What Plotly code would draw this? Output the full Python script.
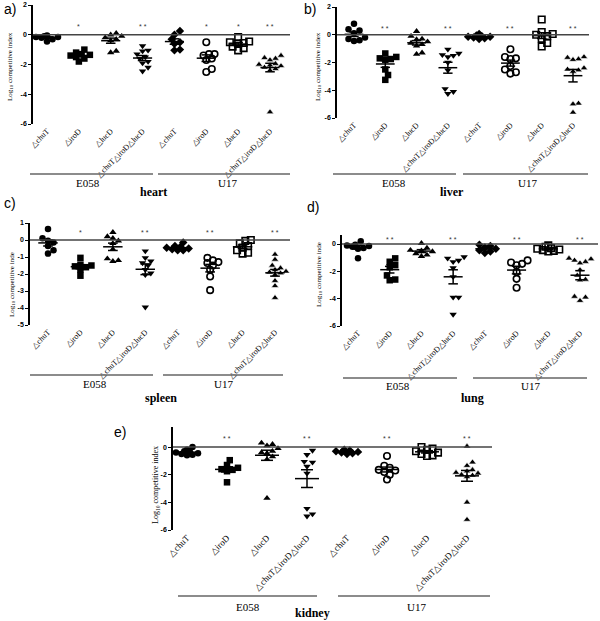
import numpy as np
import plotly.graph_objects as go

W, H = 600, 621

# ---------------- data ----------------
tick_labels = ["△chuT", "△iroD", "△lucD", "△chuT△iroD△lucD",
               "△chuT", "△iroD", "△lucD", "△chuT△iroD△lucD"]
strains = ["E058", "U17"]
organs = ["heart", "liver", "spleen", "lung", "kidney"]
panel_letters = ["a)", "b)", "c)", "d)", "e)"]

heart = [
    [-0.05, -0.1, -0.15, -0.1, -0.2, -0.45, -0.3, -0.15],
    [-1.0, -1.2, -1.3, -1.35, -1.4, -1.5, -1.6, -1.8],
    [0.1, 0.0, -0.1, -0.2, -0.3, -0.4, -1.1, -1.2],
    [-0.75, -1.05, -1.1, -1.3, -1.5, -1.6, -1.8, -1.9, -2.2, -2.45],
    [0.25, 0.0, -0.3, -0.6, -0.5, -1.0, -1.05],
    [-0.5, -1.3, -1.3, -1.4, -1.6, -1.7, -2.3, -2.5],
    [-0.15, -0.45, -0.5, -0.55, -0.6, -0.8, -0.9, -1.05],
    [-1.4, -1.55, -1.6, -1.7, -1.95, -2.0, -2.05, -2.1, -2.2, -2.3, -2.4, -5.2],
]
liver = [
    [0.8, 0.4, 0.3, 0.1, -0.2, -0.3, -0.4, -0.45],
    [-1.35, -1.6, -1.7, -1.75, -1.8, -2.5, -2.9, -3.25],
    [0.25, -0.1, -0.3, -0.35, -0.5, -0.6, -0.7, -0.8, -1.3, -1.4],
    [-1.05, -1.35, -1.45, -1.5, -1.6, -2.0, -2.55, -3.9, -4.1, -4.25],
    [0.05, -0.05, -0.1, -0.15, -0.2, -0.25, -0.3, -0.15],
    [-1.05, -1.6, -1.7, -1.75, -2.25, -2.5, -2.7, -2.8],
    [1.1, 0.2, 0.05, 0.0, -0.1, -0.3, -0.6, -0.85],
    [-1.6, -1.65, -1.75, -1.8, -2.4, -2.5, -2.55, -2.65, -4.95, -5.0, -5.6],
]
spleen = [
    [0.65, 0.1, -0.05, -0.15, -0.35, -0.6, -0.8],
    [-1.05, -1.45, -1.5, -1.55, -1.6, -1.75, -2.1],
    [0.45, 0.2, 0.1, -0.05, -0.2, -0.55, -1.1, -1.25, -1.2],
    [-0.65, -1.05, -1.25, -1.35, -1.5, -1.75, -1.95, -2.05, -3.95],
    [-0.15, -0.35, -0.4, -0.45, -0.5, -0.55, -0.6, -0.6],
    [-1.05, -1.2, -1.3, -1.35, -1.5, -1.75, -2.15, -2.95],
    [0.0, -0.05, -0.2, -0.35, -0.45, -0.6, -0.75, -0.8],
    [-0.85, -1.15, -1.5, -1.65, -1.75, -1.85, -1.9, -1.95, -2.05, -2.4, -2.7, -3.4],
]
lung = [
    [0.2, -0.05, -0.1, -0.15, -0.2, -0.3, -0.35, -1.05],
    [-1.05, -1.3, -1.55, -1.7, -2.3, -2.6, -2.65],
    [0.05, -0.3, -0.45, -0.5, -0.55, -0.7, -0.8, -0.9],
    [-0.95, -1.05, -1.2, -1.3, -1.75, -2.4, -3.9, -3.9, -5.15],
    [-0.05, -0.15, -0.25, -0.35, -0.45, -0.55, -0.65],
    [-1.2, -1.35, -1.45, -1.55, -2.05, -2.55, -3.2],
    [-0.1, -0.2, -0.3, -0.35, -0.4, -0.45, -0.5, -0.55],
    [-1.05, -1.1, -1.2, -1.3, -1.4, -1.9, -2.3, -2.6, -2.65, -3.85, -3.9, -4.15],
]
kidney = [
    [0.0, -0.2, -0.3, -0.35, -0.4, -0.45, -0.5, -0.55, -0.6],
    [-0.95, -1.3, -1.5, -1.6, -1.65, -1.75, -2.55],
    [0.3, 0.2, 0.1, -0.1, -0.3, -0.4, -0.45, -0.7, -0.9, -3.7],
    [-0.25, -0.55, -1.05, -1.1, -1.4, -1.9, -4.45, -4.85, -5.0],
    [-0.2, -0.25, -0.3, -0.35, -0.4, -0.45, -0.5],
    [-0.65, -1.35, -1.5, -1.65, -1.7, -1.8, -2.0, -2.35],
    [0.0, -0.1, -0.2, -0.3, -0.4, -0.5, -0.6, -0.65],
    [0.05, -1.1, -1.35, -1.65, -1.75, -1.85, -1.9, -2.0, -2.05, -2.15, -4.0, -5.25],
]
organ_data = [heart, liver, spleen, lung, kidney]

heart_sig = ["", "*", "", "* *", "", "*", "*", "* *"]
liver_sig = ["", "* *", "", "* *", "", "* *", "", "* *"]
spleen_sig = ["", "*", "", "* *", "", "* *", "", "* *"]
lung_sig = ["", "* *", "", "* *", "", "* *", "", "* *"]
kidney_sig = ["", "* *", "", "* *", "", "* *", "", "* *"]
organ_sig = [heart_sig, liver_sig, spleen_sig, lung_sig, kidney_sig]

heart_yticks = [2, 0, -2, -4, -6]
liver_yticks = [2, 0, -2, -4, -6]
spleen_yticks = [1, 0, -1, -2, -3, -4, -5]
lung_yticks = [0, -2, -4, -6]
kidney_yticks = [0, -2, -4, -6]
organ_yticks = [heart_yticks, liver_yticks, spleen_yticks, lung_yticks, kidney_yticks]
yranges = [[-6, 2], [-6, 2], [-5, 1], [-6, 0.66], [-6, 1.45]]

# ---------------- layout geometry (pixels) ----------------
geom = [
    dict(xl=33, xr=290, c0=47, c7=270, ytop=5, ybot=124, ytitle=(10, 67), tsize=7,
         title="Log<sub>10</sub> competitive index", sigy=0.55,
         letter=(2, 9), glines=[(30, 153), (158, 290)], gly=174, glab=[(88, 183), (227, 183)],
         org=(153, 192), fs=8),
    dict(xl=337, xr=589, c0=354, c7=573, ytop=7, ybot=118, ytitle=(318, 67), tsize=7,
         title="Log<sub>10</sub> competitive index", sigy=0.45,
         letter=(302, 9), glines=[(333, 456), (463, 588)], gly=174, glab=[(394, 183), (527, 183)],
         org=(452, 192), fs=8),
    dict(xl=30, xr=290, c0=48, c7=275, ytop=223, ybot=325, ytitle=(12, 285), tsize=7,
         title="Log<sub>10</sub> competitive inde", sigy=0.45,
         letter=(2, 203), glines=[(30, 153), (163, 283)], gly=375, glab=[(95, 384), (223, 384)],
         org=(161, 398), fs=8),
    dict(xl=342, xr=598, c0=358, c7=580, ytop=235, ybot=326, ytitle=(319, 275), tsize=7,
         title="Log<sub>10</sub> competitive inde", sigy=0.3,
         letter=(305, 207), glines=[(343, 457), (473, 587)], gly=378, glab=[(398, 386), (530, 386)],
         org=(472, 398), fs=8),
    dict(xl=173, xr=492, c0=187, c7=467, ytop=427, ybot=530, ytitle=(156, 485), tsize=8,
         title="Log<sub>10</sub> competitive index", sigy=0.65,
         letter=(112, 432), glines=[(178, 317), (338, 490)], gly=596, glab=[(248, 607), (417, 607)],
         org=(312, 613), fs=9),
]

markers = [
    dict(symbol="circle", color="black", line=dict(color="black", width=0)),
    dict(symbol="square", color="black", line=dict(color="black", width=0)),
    dict(symbol="triangle-up", color="black", line=dict(color="black", width=0)),
    dict(symbol="triangle-down", color="black", line=dict(color="black", width=0)),
    dict(symbol="diamond", color="black", line=dict(color="black", width=0)),
    dict(symbol="circle-open", color="black", line=dict(color="black", width=1.6)),
    dict(symbol="square-open", color="black", line=dict(color="black", width=1.6)),
    dict(symbol="triangle-up", color="black", line=dict(color="white", width=0.6)),
]

SERIF = "Liberation Serif, Times New Roman, serif"
SANS = "Liberation Sans, Arial, sans-serif"


def swarm(vals, upx, vpx, d=5.0, maxoff=0.4):
    """Simple beeswarm offsets in category units."""
    order = np.argsort(vals)
    placed = []
    offs = np.zeros(len(vals))
    step = (d * 0.55) / upx
    for i in order:
        yp = vals[i] * vpx
        best = None
        k = 0
        while True:
            cands = [0.0] if k == 0 else [k * step, -k * step]
            ok = None
            for c in cands:
                if abs(c) > maxoff:
                    continue
                if all((c - po) ** 2 * upx ** 2 + (yp - py) ** 2 >= d * d for po, py in placed):
                    ok = c
                    break
            if ok is not None:
                best = ok
                break
            k += 1
            if k * step > maxoff:
                best = ((len(placed) % 3) - 1) * step
                break
        offs[i] = best
        placed.append((best, yp))
    return offs


def paper_text(px, py, text, font, xanchor="center", textangle=0):
    return dict(x=px / W, y=1 - py / H, xref="paper", yref="paper", text=text,
                showarrow=False, xanchor=xanchor, yanchor="middle",
                textangle=textangle, font=font)


fig = go.Figure()
layout = dict(width=W, height=H, margin=dict(l=0, r=0, t=0, b=0, pad=0, autoexpand=False),
              paper_bgcolor="white", plot_bgcolor="white", showlegend=False)
shapes, annotations = [], []

for p, (data, sig, yt, yr, g) in enumerate(zip(organ_data, organ_sig, organ_yticks, yranges, geom)):
    k = "" if p == 0 else str(p + 1)
    xa, ya = "x" + k, "y" + k
    upx = (g["c7"] - g["c0"]) / 7.0
    xr0 = -(g["c0"] - g["xl"]) / upx
    xr1 = 7 + (g["xr"] - g["c7"]) / upx
    vpx = (g["ybot"] - g["ytop"]) / (yr[1] - yr[0])
    layout["xaxis" + k] = dict(
        domain=[g["xl"] / W, g["xr"] / W], range=[xr0, xr1], anchor=ya, automargin=False,
        showline=False, showgrid=False, zeroline=False, ticks="",
        tickmode="array", tickvals=list(range(8)), ticktext=tick_labels,
        tickangle=-45, tickfont=dict(family=SERIF, size=g["fs"], color="black"),
    )
    layout["yaxis" + k] = dict(
        domain=[1 - g["ybot"] / H, 1 - g["ytop"] / H], range=yr, anchor=xa, automargin=False,
        showline=True, linecolor="black", linewidth=1.5, showgrid=False, zeroline=False,
        ticks="outside", ticklen=3, tickwidth=1.2, tickcolor="black",
        tickmode="array", tickvals=yt, ticktext=[str(v) for v in yt],
        tickfont=dict(family=SANS, size=7, color="black", weight="bold"),
    )
    shapes.append(dict(type="line", xref=xa + " domain", yref=ya, x0=0, x1=1, y0=0, y1=0,
                       line=dict(color="#444", width=1.6)))
    for ci, vals in enumerate(data):
        v = np.array(vals, dtype=float)
        offs = swarm(v, upx, vpx)
        m = markers[ci]
        fig.add_trace(go.Scatter(
            x=ci + offs, y=v, mode="markers", xaxis=xa, yaxis=ya, cliponaxis=False,
            marker=dict(symbol=m["symbol"], size=6.5, color=m["color"], line=m["line"]),
            hoverinfo="skip"))
    lx, ly = [], []
    for ci, vals in enumerate(data):
        v = np.array(vals, dtype=float)
        mu = v.mean()
        se = v.std(ddof=1) / np.sqrt(len(v))
        lx += [ci - 0.3, ci + 0.3, None, ci, ci, None,
               ci - 0.15, ci + 0.15, None, ci - 0.15, ci + 0.15, None]
        ly += [mu, mu, None, mu - se, mu + se, None,
               mu - se, mu - se, None, mu + se, mu + se, None]
    fig.add_trace(go.Scatter(x=lx, y=ly, mode="lines", xaxis=xa, yaxis=ya, cliponaxis=False,
                             line=dict(color="black", width=1.5), hoverinfo="skip"))
    for ci, s in enumerate(sig):
        if s:
            annotations.append(dict(x=ci, y=g["sigy"], xref=xa, yref=ya, text=s,
                                    showarrow=False, xanchor="center", yanchor="middle",
                                    font=dict(family=SANS, size=7, color="#333")))
    tx, ty = g["ytitle"]
    annotations.append(paper_text(tx, ty, g["title"],
                                  dict(family=SERIF, size=g["tsize"], color="black"),
                                  textangle=-90))
    lx0, ly0 = g["letter"]
    annotations.append(paper_text(lx0, ly0, panel_letters[p],
                                  dict(family=SANS, size=14, color="black"), xanchor="left"))
    for (a, b), (gx, gy), name in zip(g["glines"], g["glab"], strains):
        shapes.append(dict(type="line", xref="paper", yref="paper",
                           x0=a / W, x1=b / W, y0=1 - g["gly"] / H, y1=1 - g["gly"] / H,
                           line=dict(color="#666", width=1.3)))
        annotations.append(paper_text(gx, gy, name, dict(family=SERIF, size=11, color="black")))
    ox, oy = g["org"]
    annotations.append(paper_text(ox, oy, "<b>" + organs[p] + "</b>",
                                  dict(family=SERIF, size=12, color="black")))

layout["shapes"] = shapes
layout["annotations"] = annotations
fig.update_layout(**layout)
fig.write_html("out.html", config={"displayModeBar": False},
               post_script="document.body.style.margin='0px';")
